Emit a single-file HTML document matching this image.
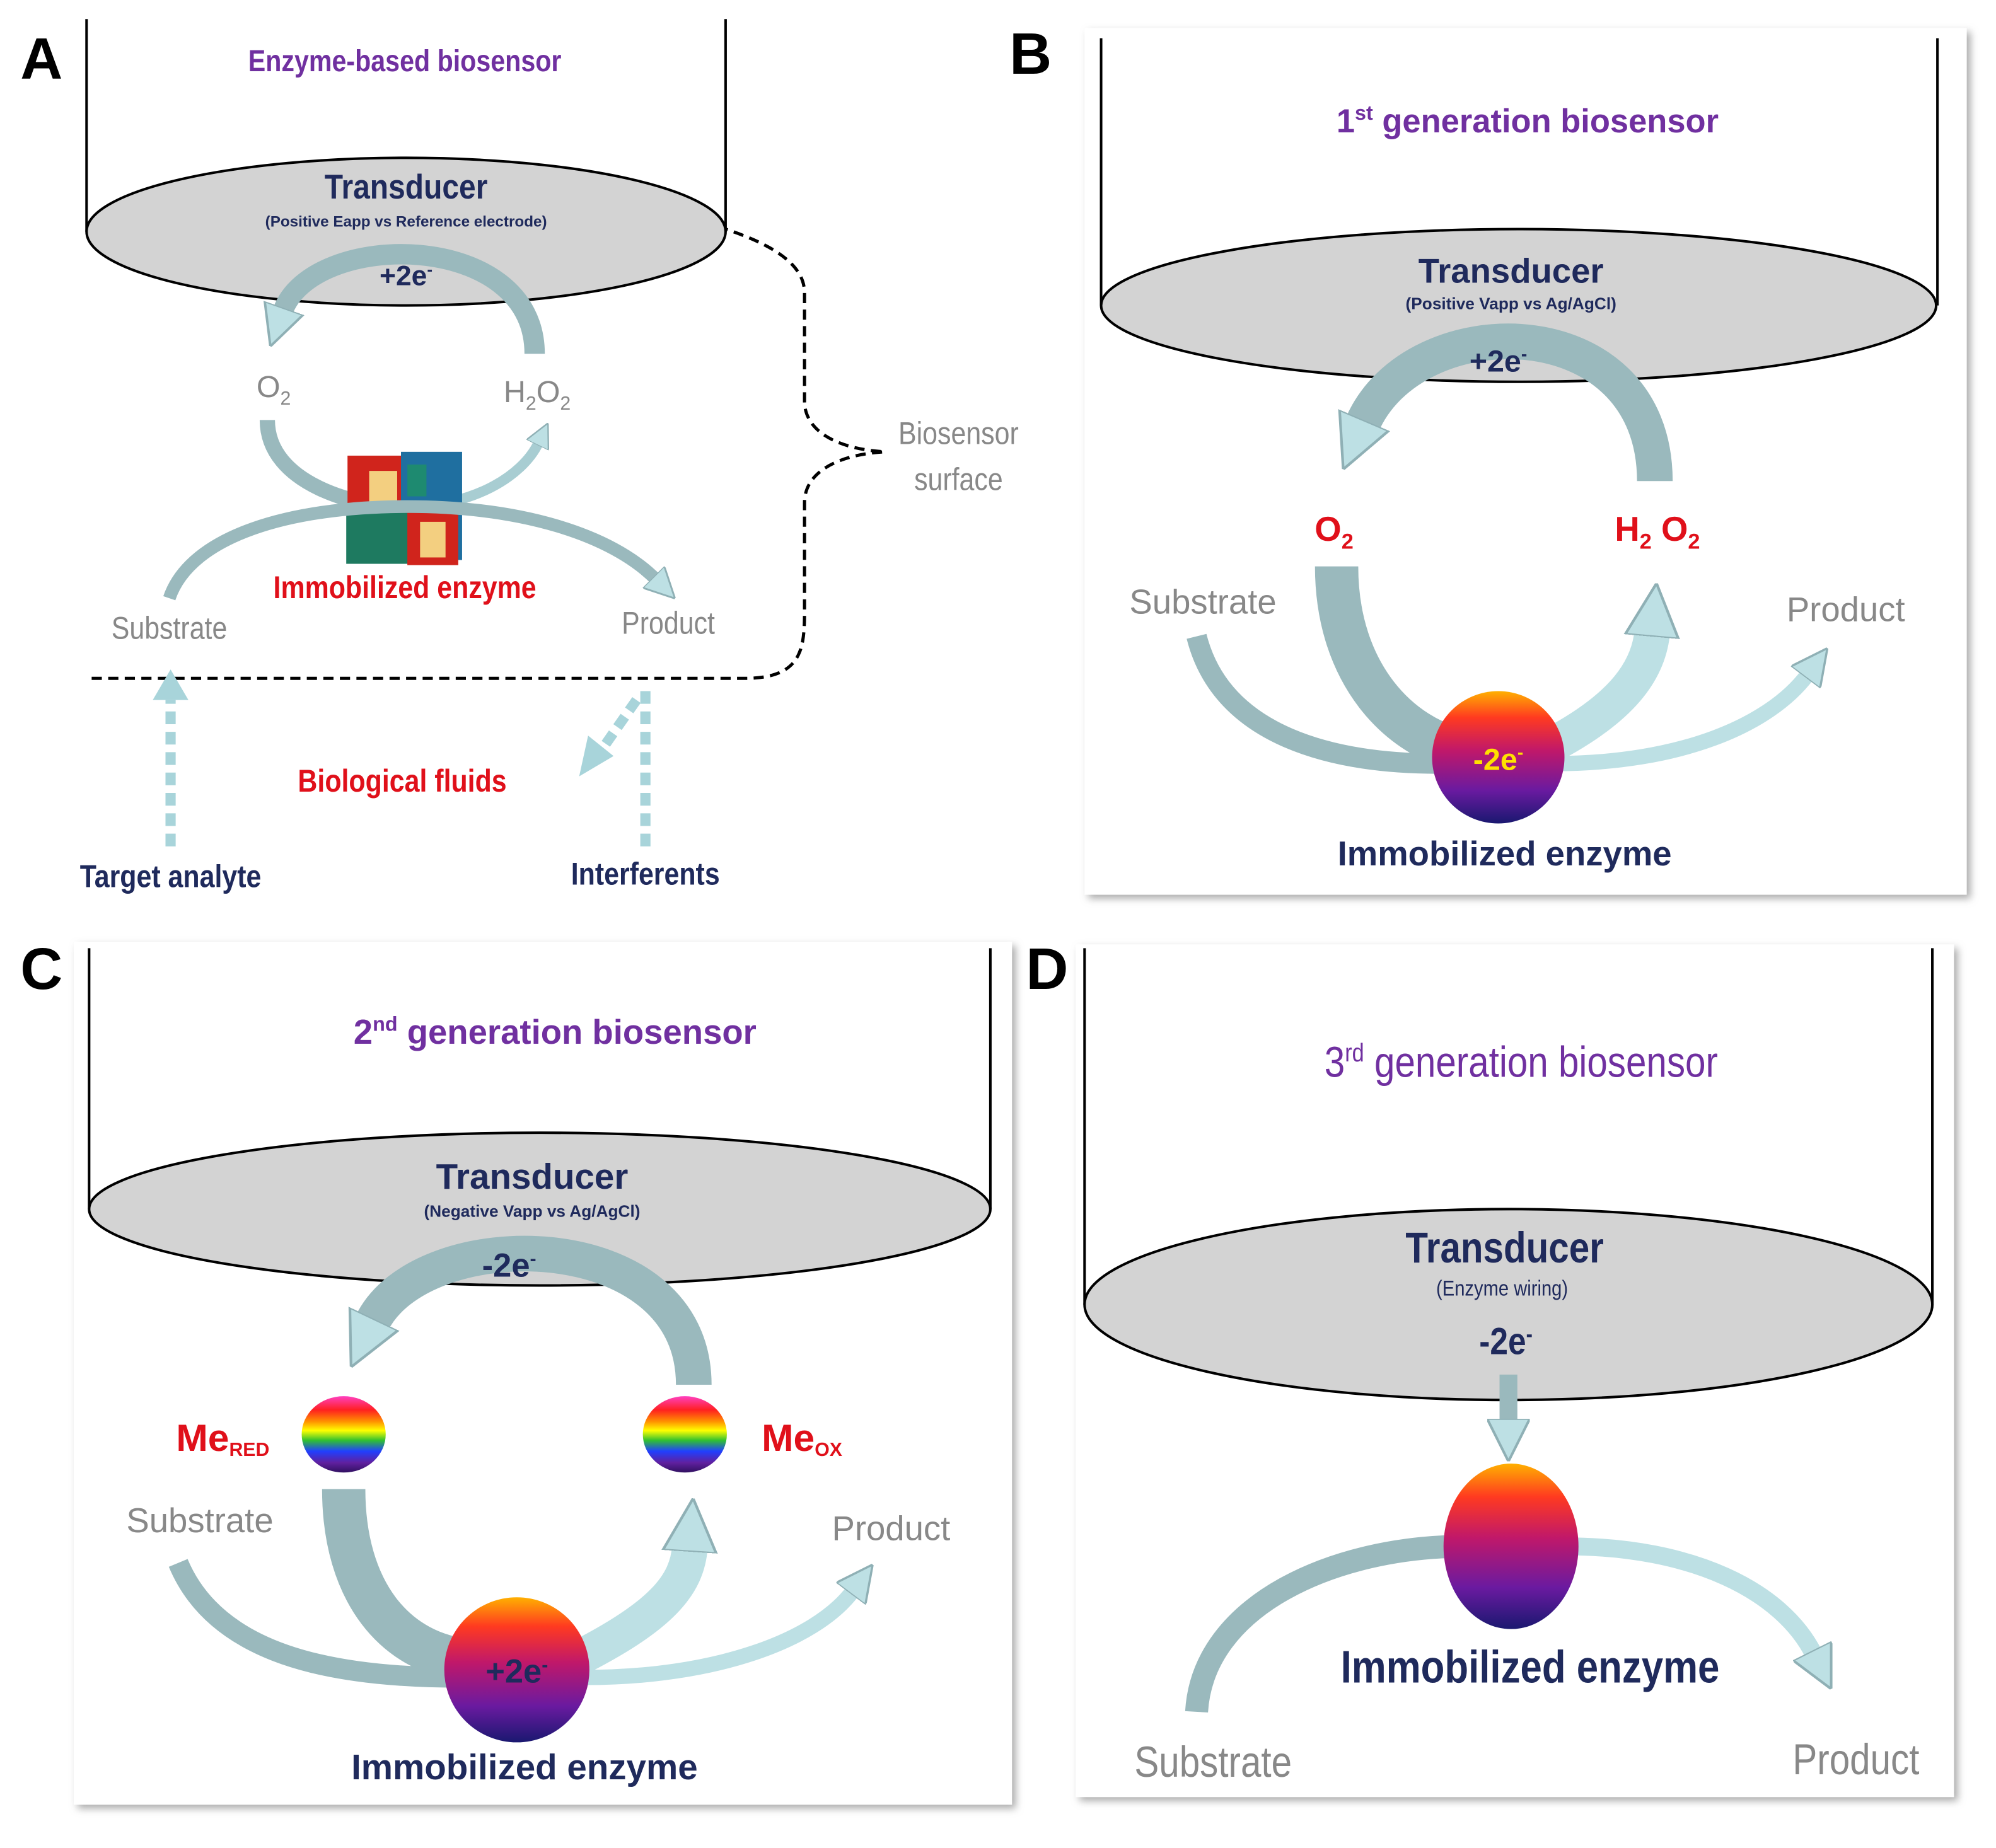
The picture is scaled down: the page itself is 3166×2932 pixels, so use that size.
<!DOCTYPE html>
<html><head><meta charset="utf-8"><style>
html,body{margin:0;padding:0;background:#fff;}
svg{display:block;}
text{font-family:"Liberation Sans",sans-serif;}
</style></head><body>
<svg width="3166" height="2932" viewBox="0 0 1568 1452" preserveAspectRatio="none" xmlns="http://www.w3.org/2000/svg">
<defs>
<linearGradient id="ball" x1="0" y1="0" x2="0" y2="1">
<stop offset="0" stop-color="#ffb000"/><stop offset="0.2" stop-color="#ff3a20"/><stop offset="0.45" stop-color="#c0186a"/><stop offset="0.75" stop-color="#6a1aa0"/><stop offset="1" stop-color="#1a1870"/>
</linearGradient>
<linearGradient id="rb" x1="0" y1="0" x2="0" y2="1">
<stop offset="0" stop-color="#ff40c0"/><stop offset="0.18" stop-color="#ff2020"/><stop offset="0.33" stop-color="#ff9000"/><stop offset="0.45" stop-color="#ffff00"/><stop offset="0.58" stop-color="#30c030"/><stop offset="0.72" stop-color="#2040ff"/><stop offset="0.87" stop-color="#6020a0"/><stop offset="1" stop-color="#301060"/>
</linearGradient>
<filter id="sh" x="-5%" y="-5%" width="110%" height="110%"><feDropShadow dx="3" dy="3" stdDeviation="3" flood-color="#888" flood-opacity="0.7"/></filter>
<marker id="ah" viewBox="0 0 10 10" refX="1" refY="5" markerWidth="2.4" markerHeight="2.4" orient="auto"><path d="M0,0 L10,5 L0,10 Z" fill="#bde0e4" stroke="#8fb0b5" stroke-width="0.6"/></marker>
<marker id="ahm" viewBox="0 0 10 10" refX="1" refY="5" markerWidth="2" markerHeight="2.2" orient="auto"><path d="M0,0 L10,5 L0,10 Z" fill="#bde0e4" stroke="#8fb0b5" stroke-width="0.6"/></marker>
<marker id="ahs" viewBox="0 0 10 10" refX="1" refY="5" markerWidth="1.5" markerHeight="2.1" orient="auto"><path d="M0,0 L10,5 L0,10 Z" fill="#bde0e4" stroke="#8fb0b5" stroke-width="0.5"/></marker>
</defs>

<rect x="852" y="22" width="693" height="681" fill="#fff" filter="url(#sh)"/>
<rect x="58" y="740" width="737" height="678" fill="#fff" filter="url(#sh)"/>
<rect x="845" y="742" width="690" height="670" fill="#fff" filter="url(#sh)"/>

<g font-family="Liberation Serif" font-weight="bold" font-size="46" fill="#000">
<text x="16" y="62">A</text><text x="793" y="58">B</text><text x="16" y="777">C</text><text x="806" y="777">D</text>
</g>

<!-- ========== A ========== -->
<line x1="68" y1="15" x2="68" y2="182" stroke="#000" stroke-width="2"/>
<line x1="570" y1="15" x2="570" y2="182" stroke="#000" stroke-width="2"/>
<ellipse cx="319" cy="182" rx="251" ry="58" fill="#d3d3d3" stroke="#000" stroke-width="2"/>
<text x="318" y="56" font-size="24" fill="#7030a0" text-anchor="middle" font-weight="bold" transform="translate(318 0) scale(0.85 1) translate(-318 0)">Enzyme-based biosensor</text>
<text x="319" y="156" font-size="27" fill="#1f2a5c" font-weight="bold" text-anchor="middle" transform="translate(319 0) scale(0.88 1) translate(-319 0)">Transducer</text>
<text x="319" y="178" font-size="12" fill="#1f2a5c" font-weight="bold" text-anchor="middle">(Positive Eapp vs Reference electrode)</text>
<text x="319" y="224" font-size="22" fill="#1f2a5c" font-weight="bold" text-anchor="middle">+2e<tspan dy="-8" font-size="13">-</tspan></text>
<path d="M420,278 C420,180 245,180 222,245" fill="none" stroke="#9ab9bd" stroke-width="16" marker-end="url(#ahm)"/>
<text x="215" y="312" font-size="24" fill="#888" text-anchor="middle">O<tspan font-size="15" dy="6">2</tspan></text>
<text x="422" y="316" font-size="24" fill="#888" text-anchor="middle">H<tspan font-size="15" dy="6">2</tspan><tspan dy="-6">O</tspan><tspan font-size="15" dy="6">2</tspan></text>
<path d="M210,330 C210,380 280,400 330,400" fill="none" stroke="#9ab9bd" stroke-width="12"/>
<path d="M320,398 C370,398 410,375 423,348" fill="none" stroke="#a8cdd2" stroke-width="8" marker-end="url(#ah)"/>
<g>
<rect x="273" y="358" width="45" height="80" fill="#d0241c"/>
<rect x="290" y="370" width="22" height="45" fill="#f3cf80"/>
<rect x="315" y="355" width="48" height="85" fill="#1f6fa0"/>
<rect x="272" y="398" width="50" height="45" fill="#1e7a60"/>
<rect x="320" y="400" width="40" height="44" fill="#d0241c"/>
<rect x="330" y="410" width="20" height="28" fill="#f3cf80"/>
<rect x="320" y="365" width="15" height="25" fill="#1e8a70"/>
</g>
<path d="M133,470 C150,420 230,398 320,398 C410,398 480,420 515,455" fill="none" stroke="#9ab9bd" stroke-width="10" marker-end="url(#ah)"/>
<text x="318" y="470" font-size="25" fill="#e0101a" text-anchor="middle" font-weight="bold" transform="translate(318 0) scale(0.85 1) translate(-318 0)">Immobilized enzyme</text>
<text x="133" y="502" font-size="25" fill="#888" text-anchor="middle" transform="translate(133 0) scale(0.85 1) translate(-133 0)">Substrate</text>
<text x="525" y="498" font-size="25" fill="#888" text-anchor="middle" transform="translate(525 0) scale(0.85 1) translate(-525 0)">Product</text>
<path d="M72,533 L585,533 C630,533 632,510 632,480 L632,395 C632,370 660,357 695,355 C660,353 632,340 632,315 L632,230 C632,205 600,190 570,180" fill="none" stroke="#000" stroke-width="2.5" stroke-dasharray="8,5"/>
<text x="753" y="349" font-size="25" fill="#888" text-anchor="middle" transform="translate(753 0) scale(0.85 1) translate(-753 0)">Biosensor</text>
<text x="753" y="385" font-size="25" fill="#888" text-anchor="middle" transform="translate(753 0) scale(0.85 1) translate(-753 0)">surface</text>
<line x1="134" y1="665" x2="134" y2="550" stroke="#a8d4da" stroke-width="8" stroke-dasharray="10,6"/>
<polygon points="120,550 148,550 134,526" fill="#a8d4da"/>
<line x1="507" y1="665" x2="507" y2="540" stroke="#a8d4da" stroke-width="8" stroke-dasharray="10,6"/>
<line x1="500" y1="550" x2="472" y2="590" stroke="#a8d4da" stroke-width="8" stroke-dasharray="10,6"/>
<polygon points="455,610 462,578 482,594" fill="#a8d4da"/>
<text x="316" y="622" font-size="25" fill="#e0101a" text-anchor="middle" font-weight="bold" transform="translate(316 0) scale(0.85 1) translate(-316 0)">Biological fluids</text>
<text x="134" y="697" font-size="25" fill="#1f2a5c" text-anchor="middle" font-weight="bold" transform="translate(134 0) scale(0.85 1) translate(-134 0)">Target analyte</text>
<text x="507" y="695" font-size="25" fill="#1f2a5c" text-anchor="middle" font-weight="bold" transform="translate(507 0) scale(0.85 1) translate(-507 0)">Interferents</text>

<!-- ========== B ========== -->
<line x1="865" y1="30" x2="865" y2="240" stroke="#000" stroke-width="2"/>
<line x1="1522" y1="30" x2="1522" y2="240" stroke="#000" stroke-width="2"/>
<ellipse cx="1193" cy="240" rx="328" ry="60" fill="#d3d3d3" stroke="#000" stroke-width="2"/>
<text x="1200" y="104" font-size="26" fill="#7030a0" text-anchor="middle" font-weight="bold">1<tspan dy="-10" font-size="16">st</tspan><tspan dy="10"> generation biosensor</tspan></text>
<text x="1187" y="222" font-size="27" fill="#1f2a5c" font-weight="bold" text-anchor="middle">Transducer</text>
<text x="1187" y="243" font-size="13" fill="#1f2a5c" font-weight="bold" text-anchor="middle">(Positive Vapp vs Ag/AgCl)</text>
<path d="M1300,378 C1300,240 1110,240 1070,334" fill="none" stroke="#9ab9bd" stroke-width="28" marker-end="url(#ahs)"/>
<text x="1177" y="292" font-size="24" fill="#1f2a5c" font-weight="bold" text-anchor="middle">+2e<tspan dy="-9" font-size="14">-</tspan></text>
<text x="1048" y="425" font-size="27" fill="#e0101a" font-weight="bold" text-anchor="middle">O<tspan dy="6" font-size="17">2</tspan></text>
<text x="1302" y="425" font-size="27" fill="#e0101a" font-weight="bold" text-anchor="middle">H<tspan dy="6" font-size="17">2</tspan><tspan dy="-6"> O</tspan><tspan dy="6" font-size="17">2</tspan></text>
<text x="945" y="482" font-size="27" fill="#888" text-anchor="middle">Substrate</text>
<text x="1450" y="488" font-size="27" fill="#888" text-anchor="middle">Product</text>
<path d="M940,500 C960,580 1050,600 1130,600" fill="none" stroke="#9ab9bd" stroke-width="16"/>
<path d="M1050,445 C1050,530 1100,580 1150,590" fill="none" stroke="#9ab9bd" stroke-width="34"/>
<path d="M1210,590 C1270,560 1295,530 1298,496" fill="none" stroke="#bde0e4" stroke-width="28" marker-end="url(#ahs)"/>
<path d="M1220,600 C1320,600 1390,570 1420,530" fill="none" stroke="#bde0e4" stroke-width="12" marker-end="url(#ah)"/>
<circle cx="1177" cy="595" r="52" fill="url(#ball)"/>
<text x="1177" y="605" font-size="24" fill="#ffe000" font-weight="bold" text-anchor="middle">-2e<tspan dy="-9" font-size="14">-</tspan></text>
<text x="1182" y="680" font-size="27" fill="#1f2a5c" font-weight="bold" text-anchor="middle">Immobilized enzyme</text>

<!-- ========== C ========== -->
<line x1="70" y1="745" x2="70" y2="950" stroke="#000" stroke-width="2"/>
<line x1="778" y1="745" x2="778" y2="950" stroke="#000" stroke-width="2"/>
<ellipse cx="424" cy="950" rx="354" ry="60" fill="#d3d3d3" stroke="#000" stroke-width="2"/>
<text x="436" y="820" font-size="27" fill="#7030a0" text-anchor="middle" font-weight="bold">2<tspan dy="-10" font-size="16">nd</tspan><tspan dy="10"> generation biosensor</tspan></text>
<text x="418" y="934" font-size="28" fill="#1f2a5c" font-weight="bold" text-anchor="middle">Transducer</text>
<text x="418" y="956" font-size="13" fill="#1f2a5c" font-weight="bold" text-anchor="middle">(Negative Vapp vs Ag/AgCl)</text>
<path d="M545,1088 C545,960 330,960 292,1040" fill="none" stroke="#9ab9bd" stroke-width="28" marker-end="url(#ahs)"/>
<text x="400" y="1003" font-size="26" fill="#1f2a5c" font-weight="bold" text-anchor="middle">-2e<tspan dy="-9" font-size="15">-</tspan></text>
<ellipse cx="270" cy="1127" rx="33" ry="30" fill="url(#rb)"/>
<ellipse cx="538" cy="1127" rx="33" ry="30" fill="url(#rb)"/>
<text x="175" y="1140" font-size="30" fill="#e0101a" font-weight="bold" text-anchor="middle">Me<tspan font-size="15" dy="4">RED</tspan></text>
<text x="630" y="1140" font-size="30" fill="#e0101a" font-weight="bold" text-anchor="middle">Me<tspan font-size="15" dy="4">OX</tspan></text>
<text x="157" y="1204" font-size="27" fill="#888" text-anchor="middle">Substrate</text>
<text x="700" y="1210" font-size="27" fill="#888" text-anchor="middle">Product</text>
<path d="M140,1228 C170,1300 260,1318 360,1318" fill="none" stroke="#9ab9bd" stroke-width="16"/>
<path d="M270,1170 C270,1250 310,1300 370,1305" fill="none" stroke="#9ab9bd" stroke-width="34"/>
<path d="M450,1305 C520,1270 540,1245 542,1215" fill="none" stroke="#bde0e4" stroke-width="28" marker-end="url(#ahs)"/>
<path d="M460,1318 C560,1318 640,1290 670,1250" fill="none" stroke="#bde0e4" stroke-width="12" marker-end="url(#ah)"/>
<circle cx="406" cy="1312" r="57" fill="url(#ball)"/>
<text x="406" y="1322" font-size="26" fill="#1f2a5c" font-weight="bold" text-anchor="middle">+2e<tspan dy="-9" font-size="15">-</tspan></text>
<text x="412" y="1398" font-size="28" fill="#1f2a5c" font-weight="bold" text-anchor="middle">Immobilized enzyme</text>

<!-- ========== D ========== -->
<line x1="852" y1="745" x2="852" y2="1025" stroke="#000" stroke-width="2"/>
<line x1="1518" y1="745" x2="1518" y2="1025" stroke="#000" stroke-width="2"/>
<ellipse cx="1185" cy="1025" rx="333" ry="75" fill="#d3d3d3" stroke="#000" stroke-width="2"/>
<text x="1195" y="846" font-size="34" fill="#7030a0" text-anchor="middle" transform="translate(1195 0) scale(0.85 1) translate(-1195 0)">3<tspan dy="-12" font-size="20">rd</tspan><tspan dy="12"> generation biosensor</tspan></text>
<text x="1182" y="992" font-size="34" fill="#1f2a5c" font-weight="bold" text-anchor="middle" transform="translate(1182 0) scale(0.85 1) translate(-1182 0)">Transducer</text>
<text x="1180" y="1018" font-size="17" fill="#1f2a5c" text-anchor="middle" transform="translate(1180 0) scale(0.85 1) translate(-1180 0)">(Enzyme wiring)</text>
<text x="1183" y="1064" font-size="30" fill="#1f2a5c" font-weight="bold" text-anchor="middle" transform="translate(1183 0) scale(0.85 1) translate(-1183 0)">-2e<tspan dy="-10" font-size="18">-</tspan></text>
<path d="M1185,1080 L1185,1118" stroke="#9ab9bd" stroke-width="14" fill="none" marker-end="url(#ah)"/>
<path d="M940,1345 C945,1260 1050,1215 1150,1215" fill="none" stroke="#9ab9bd" stroke-width="18"/>
<path d="M1230,1215 C1330,1215 1400,1250 1425,1300" fill="none" stroke="#bde0e4" stroke-width="14" marker-end="url(#ah)"/>
<ellipse cx="1187" cy="1215" rx="53" ry="65" fill="url(#ball)"/>
<text x="1202" y="1322" font-size="36" fill="#1f2a5c" font-weight="bold" text-anchor="middle" transform="translate(1202 0) scale(0.85 1) translate(-1202 0)">Immobilized enzyme</text>
<text x="953" y="1396" font-size="34" fill="#888" text-anchor="middle" transform="translate(953 0) scale(0.85 1) translate(-953 0)">Substrate</text>
<text x="1458" y="1394" font-size="34" fill="#888" text-anchor="middle" transform="translate(1458 0) scale(0.85 1) translate(-1458 0)">Product</text>
</svg>
</body></html>
